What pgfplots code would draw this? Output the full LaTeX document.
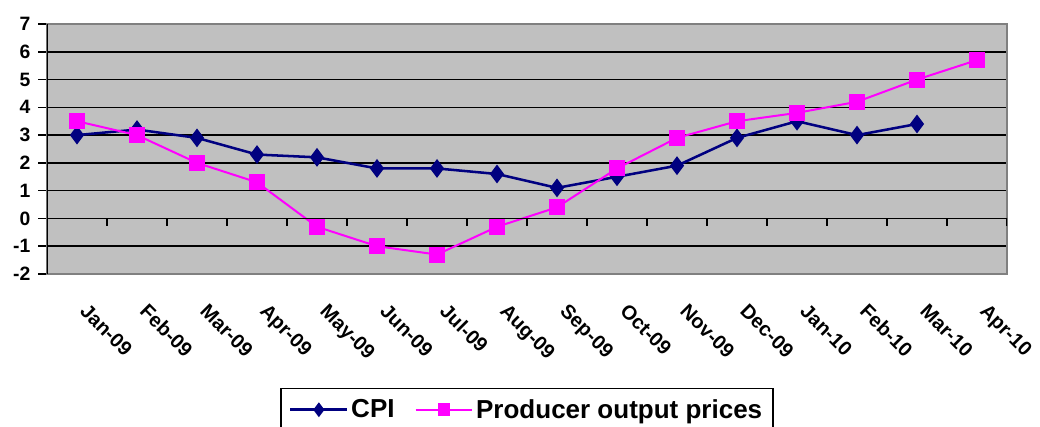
\documentclass[border=0pt]{standalone}
\usepackage{pgfplots}
\pgfplotsset{compat=1.18}
\usepackage{fontspec}
\setmainfont{Liberation Sans}
\definecolor{bgray}{HTML}{C0C0C0}
\definecolor{frame}{HTML}{808080}
\definecolor{cpi}{HTML}{000080}
\definecolor{ppi}{HTML}{FF00FF}
\begin{document}
\begin{tikzpicture}
\begin{axis}[
  scale only axis, width=720pt, height=187.5pt,
  xmin=-0.5, xmax=15.5, ymin=-2, ymax=7,
  axis background/.style={fill=bgray},
  axis line style={draw=frame, line width=1.5pt},
  xtick={0,...,15},
  xticklabels={Jan-09,Feb-09,Mar-09,Apr-09,May-09,Jun-09,Jul-09,Aug-09,Sep-09,Oct-09,Nov-09,Dec-09,Jan-10,Feb-10,Mar-10,Apr-10},
  x tick label style={xshift=9pt, yshift=-10pt, rotate=-45, anchor=north west, font=\fontsize{15}{17}\selectfont\bfseries},
  major x tick style={draw=none},
  ytick={-2,...,7}, ytick pos=left,
  yticklabels={-2,-1,0,1,2,3,4,5,6,7},
  y tick label style={font=\fontsize{14.5}{16}\selectfont\bfseries, xshift=-2.5pt},
  tick align=outside, major tick length=6.5pt,
  y tick style={black, line width=1.2pt},
  ymajorgrids, major grid style={black, line width=1.2pt},
  legend style={at={(0.5,-0.456)}, anchor=north, legend columns=2,
    font=\fontsize{19.5}{22}\selectfont\bfseries, draw=black, line width=1pt,
    inner ysep=6pt, inner xsep=6pt,
    /tikz/every even column/.append style={column sep=13pt}},
  legend image code/.code={\draw[mark repeat=2,mark phase=2, mark size=4pt] plot coordinates {(0cm,0cm) (0.75cm,0cm) (1.5cm,0cm)};},
]
\addplot[cpi, line width=1.9pt, mark=diamond*, mark size=5.5pt, mark options={solid}] coordinates {
(0,3.0) (1,3.2) (2,2.9) (3,2.3) (4,2.2) (5,1.8) (6,1.8) (7,1.6) (8,1.1) (9,1.5) (10,1.9) (11,2.9) (12,3.5) (13,3.0) (14,3.4)};
\addlegendentry{CPI}
\addplot[ppi, line width=1.5pt, mark=square*, mark size=5.25pt, mark options={solid}] coordinates {
(0,3.5) (1,3.0) (2,2.0) (3,1.3) (4,-0.3) (5,-1.0) (6,-1.3) (7,-0.3) (8,0.4) (9,1.8) (10,2.9) (11,3.5) (12,3.8) (13,4.2) (14,5.0) (15,5.7)};
\addlegendentry{Producer output prices}
\draw[frame, line width=1.5pt] (rel axis cs:0,0) rectangle (rel axis cs:1,1);
\draw[black, line width=1.5pt] (rel axis cs:0,0) -- (rel axis cs:0,1);
\draw[black, line width=1.2pt] (axis cs:-0.5,0) -- (axis cs:15.5,0);
\pgfplotsinvokeforeach{0.5,1.5,...,15.5}{\draw[black, line width=1.2pt] (axis cs:#1,0) -- ([yshift=-6pt]axis cs:#1,0);}
\end{axis}
\pgfresetboundingbox
\path ([shift={(-35.25pt,-114.75pt)}]current axis.south west) rectangle ([shift={(24.75pt,18pt)}]current axis.north east);
\end{tikzpicture}
\end{document}
